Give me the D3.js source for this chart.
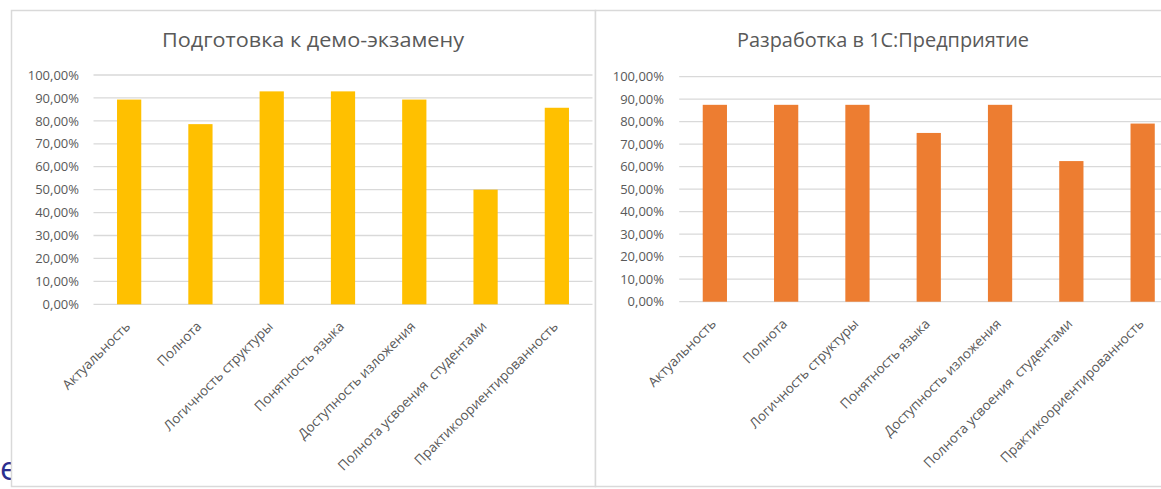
<!DOCTYPE html>
<html><head><meta charset="utf-8">
<script src="https://cdn.jsdelivr.net/npm/d3@7"></script>
<style>
html,body{margin:0;padding:0;background:#fff;}
svg{display:block;}
text{font-family:"Open Sans","Noto Sans",sans-serif;}
</style></head>
<body>
<svg id="c" width="1161" height="489"></svg>
<script>
const categories = ["Актуальность","Полнота","Логичность структуры","Понятность языка","Доступность изложения","Полнота усвоения  студентами","Практикоориентированность"];
const demoValues = [0.8929,0.7857,0.9286,0.9286,0.8929,0.5,0.8571];
const oneCValues = [0.875,0.875,0.875,0.75,0.875,0.625,0.7917];
const yTicks = [0,0.1,0.2,0.3,0.4,0.5,0.6,0.7,0.8,0.9,1.0];
const titles = ["Подготовка к демо-экзамену","Разработка в 1С:Предприятие"];
const colors = ["#FFC000","#ED7D31"];

const svg = d3.select("#c");
const fmt = v => d3.format(".2f")(v*100).replace(".", ",") + "%";

// slide background glyph peeking out
svg.append("text").attr("x",0).attr("y",480).attr("font-size",32)
  .attr("fill","#2B2F8F").text("е");

const panels = [
  {x0:11, x1:595, title:titles[0], tx:162, values:demoValues, color:colors[0],
   px:[93.5,592.5], py:[304.3,75], lab:79, tw:302},
  {x0:595, x1:1180, title:titles[1], tx:737, values:oneCValues, color:colors[1],
   px:[679.2,1178.3], py:[301.7,76.7], lab:664, tw:292}
];

panels.forEach(p => {
  const g = svg.append("g");
  g.append("rect").attr("x",p.x0+0.5).attr("y",10.5).attr("width",p.x1-p.x0).attr("height",476)
    .attr("fill","#fff").attr("stroke","#D9D9D9").attr("stroke-width",1.5);
  g.append("text").attr("x",p.tx).attr("y",47).attr("font-size",19.5).attr("fill","#595959")
    .attr("textLength",p.tw).attr("lengthAdjust","spacingAndGlyphs").text(p.title);

  const x = d3.scaleBand().domain(categories).range(p.px).paddingInner(0).paddingOuter(0);
  const y = d3.scaleLinear().domain([0,1]).range(p.py);

  const grid = g.append("g");
  grid.selectAll("line").data(yTicks).join("line")
    .attr("x1",p.px[0]).attr("x2",Math.min(p.px[1],1161)).attr("y1",d=>y(d)).attr("y2",d=>y(d))
    .attr("stroke","#D9D9D9").attr("stroke-width",1.3);

  const yAxis = d3.axisLeft(y).tickValues(yTicks).tickFormat(fmt).tickSize(0).tickPadding(0);
  const ya = g.append("g").attr("transform",`translate(${p.lab},0)`).call(yAxis);
  ya.select(".domain").remove();
  ya.selectAll("text").attr("font-size",13).attr("fill","#595959")
    .attr("font-family","\"Open Sans\",sans-serif");

  const bw = x.bandwidth()*0.34;
  g.selectAll("rect.bar").data(p.values).join("rect").attr("class","bar")
    .attr("x",(d,i)=>x(categories[i])+x.bandwidth()/2-bw/2)
    .attr("width",bw)
    .attr("y",d=>y(d)).attr("height",d=>y(0)-y(d))
    .attr("fill",p.color);

  const xAxis = d3.axisBottom(x).tickSize(0).tickPadding(0);
  const xa = g.append("g").attr("transform",`translate(0,${y(0)})`).call(xAxis);
  xa.select(".domain").remove();
  xa.selectAll(".tick text")
    .attr("font-size",13.5).attr("fill","#595959")
    .attr("font-family","\"Open Sans\",sans-serif")
    .style("white-space","pre")
    .attr("text-anchor","end").attr("dy",null).attr("y",0)
    .attr("transform","translate(2,23) rotate(-45)");
});
</script>
</body></html>
